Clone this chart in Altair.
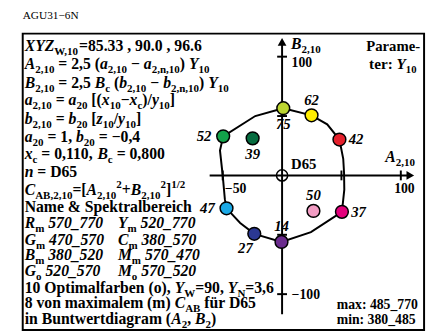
import altair as alt
import pandas as pd

FONT = "Liberation Serif"

# ---------------- data ----------------
PT_LABEL = ["75", "62", "42", "52", "39", "47", "27", "14", "50", "37"]
PT_A = [1.0, 24.8, 48.3, -49.6, -24.8, -46.8, -23.4, -0.5, 26.4, 50.4]
PT_B = [56.6, 50.6, 30.2, 32.9, 31.2, -27.7, -49.2, -56.0, -29.9, -30.7]
PT_COLOR = ["#bcd531", "#ffed00", "#e5202c", "#12a34a", "#066c40",
            "#1ba9e6", "#2b3893", "#6b2c8e", "#f29cc3", "#e4007c"]
PT_SIDE = ["below", "above", "right", "left", "below",
           "left", "belowleft", "above", "above", "right"]

CURVE_A = [1.0, 24.8, 38.0, 48.3, 51.5, 52.2, 52.4, 50.4, 24.3, -0.5,
           -23.4, -35.3, -46.8, -48.2, -50.0, -52.3, -49.6, -22.6, 1.0]
CURVE_B = [56.6, 50.6, 43.0, 30.2, 14.0, 2.0, -12.0, -30.7, -47.8, -56.0,
           -49.2, -40.0, -27.7, -20.0, 0.0, 21.0, 32.9, 50.0, 56.6]

X_TICKS = [-50, 50, 100]
Y_TICKS = [-100, -50, 50, 100]
X_AXIS = [-61, 107]
Y_AXIS = [-117, 112]

HEADER = "AGU31−6N"

BLOCK = [
    [("XYZ", "i"), ("W,10", "s"), ("=85.33 , 90.0 , 96.6", "b")],
    [("A", "i"), ("2,10", "s"), (" = 2,5 (", "b"), ("a", "i"), ("2,10", "s"), (" − ", "b"),
     ("a", "i"), ("2,n,10", "s"), (") ", "b"), ("Y", "i"), ("10", "s")],
    [("B", "i"), ("2,10", "s"), (" = 2,5 ", "b"), ("B", "i"), ("c", "s"), (" (", "b"),
     ("b", "i"), ("2,10", "s"), (" − ", "b"), ("b", "i"), ("2,n,10", "s"), (") ", "b"),
     ("Y", "i"), ("10", "s")],
    [("a", "i"), ("2,10", "s"), (" = ", "b"), ("a", "i"), ("20", "s"), (" [(", "b"), ("x", "i"),
     ("10", "s"), ("−", "b"), ("x", "i"), ("c", "s"), (")/", "b"), ("y", "i"), ("10", "s"), ("]", "b")],
    [("b", "i"), ("2,10", "s"), (" = ", "b"), ("b", "i"), ("20", "s"), (" [", "b"), ("z", "i"),
     ("10", "s"), ("/", "b"), ("y", "i"), ("10", "s"), ("]", "b")],
    [("a", "i"), ("20", "s"), (" = 1, ", "b"), ("b", "i"), ("20", "s"), (" = −0,4", "b")],
    [("x", "i"), ("c", "s"), (" = 0,110, ", "b"), ("B", "i"), ("c", "s"), (" = 0,800", "b")],
    [("n", "i"), (" = D65", "b")],
    [("C", "i"), ("AB,2,10", "s"), ("=[", "b"), ("A", "i"), ("2,10", "s"), ("2", "p"), ("+", "b"),
     ("B", "i"), ("2,10", "s"), ("2", "p"), ("]", "b"), ("1/2", "p")],
    [("Name & Spektralbereich", "b")],
    [("R", "i"), ("m", "s"), (" 570_770", "i")],
    [("G", "i"), ("m", "s"), (" 470_570", "i")],
    [("B", "i"), ("m", "s"), (" 380_520", "i")],
    [("G", "i"), ("o", "s"), (" 520_570", "i")],
    [("10 Optimalfarben (o), ", "b"), ("Y", "i"), ("W", "s"), ("=90, ", "b"), ("Y", "i"),
     ("N", "s"), ("=3,6", "b")],
    [("8 von maximalem (m) ", "b"), ("C", "i"), ("AB", "s"), (" für D65", "b")],
    [("in Buntwertdiagram (", "b"), ("A", "i"), ("2", "s"), (", ", "b"), ("B", "i"), ("2", "s"), (")", "b")],
]
BLOCK_COL2 = {
    10: [("Y", "i"), ("m", "s"), (" 520_770", "i")],
    11: [("C", "i"), ("m", "s"), (" 380_570", "i")],
    12: [("M", "i"), ("m", "s"), (" 570_470", "i")],
    13: [("M", "i"), ("o", "s"), (" 570_520", "i")],
}
B_AXIS_TITLE = [("B", "i"), ("2,10", "s")]
A_AXIS_TITLE = [("A", "i"), ("2,10", "s")]
B_TICK_LABEL = [("100", "b")]
B_TICK_LABEL2 = [("−100", "b")]
A_TICK_LABEL = [("100", "b")]
A_TICK_LABEL2 = [("−50", "b")]
WHITE_LABEL = [("D65", "b")]
PARAM1 = [("Parame-", "b")]
PARAM2 = [("ter: ", "b"), ("Y", "i"), ("10", "s")]
MAXTXT = [("max: 485_770", "b")]
MINTXT = [("min: 380_485", "b")]

# ---------------- layout helpers ----------------
OX, OY, K = 287.3, 175.5, 1.21   # page pixel of origin, px per unit


def px2A(px):
    return (px - OX) / K


def py2B(py):
    return (OY - py) / K


W_B = {' ': 250, '&': 833, '(': 333, ')': 333, '+': 570, ',': 250, '-': 333, '.': 250,
       '/': 278, ':': 333, '=': 570, '[': 333, ']': 333, '_': 500, '−': 570,
       'A': 722, 'B': 667, 'C': 722, 'D': 722, 'G': 778, 'M': 944, 'N': 722, 'O': 778,
       'P': 611, 'R': 722, 'S': 556, 'W': 1000, 'X': 722, 'Y': 722, 'Z': 667,
       'a': 500, 'b': 556, 'c': 444, 'd': 556, 'e': 444, 'f': 333, 'g': 500, 'h': 556,
       'i': 278, 'k': 556, 'l': 278, 'm': 833, 'n': 556, 'o': 500, 'p': 556, 'r': 444,
       's': 389, 't': 333, 'u': 556, 'v': 500, 'w': 722, 'x': 500, 'y': 500, 'z': 444, 'ü': 556}
W_BI = {' ': 250, '(': 333, ')': 333, ',': 250, '.': 250, '/': 278, '=': 570, '_': 500,
        ':': 333, '−': 606, 'A': 667, 'B': 667, 'C': 667, 'G': 722, 'M': 889, 'N': 722,
        'R': 667, 'W': 889, 'X': 667, 'Y': 611, 'Z': 611, 'a': 500, 'b': 500, 'c': 444,
        'm': 778, 'n': 556, 'o': 500, 'x': 500, 'y': 444, 'z': 389}


def tw(s, italic, fs):
    tab = W_BI if italic else W_B
    return sum(tab.get(c, 500) for c in s) * fs / 1000.0


def seg_size(st, fs):
    if st == "s":
        return fs * 0.7, fs * 0.26
    if st == "p":
        return fs * 0.7, -fs * 0.42
    return fs, 0.0


def run_width(segs, fs):
    return sum(tw(t, st == "i", seg_size(st, fs)[0]) for t, st in segs)


rows = []


def run(x, base_y, fs, segs):
    for txt, st in segs:
        italic = st == "i"
        size, dy = seg_size(st, fs)
        lead = len(txt) - len(txt.lstrip(" "))
        core = txt.strip(" ")
        xs = x + tw(" " * lead, italic, size)
        if core:
            rows.append(dict(A=px2A(xs), B=py2B(base_y + dy), txt=core, fs=size, it=italic))
        x += tw(txt, italic, size)


LINE_CENTERS = [44, 62, 81, 99, 118, 136, 154, 172, 190, 208, 224, 241, 257, 273, 290, 306, 322]
for i, segs in enumerate(BLOCK):
    run(25, LINE_CENTERS[i] + 5, 16, segs)
for i, segs in BLOCK_COL2.items():
    run(120, LINE_CENTERS[i] + 5, 16, segs)

run(296.5, 47, 16, B_AXIS_TITLE)
run(392.5, 162, 16, A_AXIS_TITLE)
run(297, 65, 14, B_TICK_LABEL)
run(297, 301, 14, B_TICK_LABEL2)
run(401.5, 193, 14, A_TICK_LABEL)
run(229, 193, 14, A_TICK_LABEL2)
run(296.5, 168.5, 15, WHITE_LABEL)
run(428 - run_width(PARAM1, 15), 48.5, 15, PARAM1)
run(376, 67, 15.5, PARAM2)
run(343, 312, 14, MAXTXT)
run(343, 327, 14, MINTXT)

txt_df = pd.DataFrame(rows)

XS = alt.Scale(domain=[px2A(23), px2A(432)], nice=False, zero=False)
YS = alt.Scale(domain=[py2B(333), py2B(31)], nice=False, zero=False)


def X(f="A"):
    return alt.X(f"{f}:Q", scale=XS, axis=None)


def Y(f="B"):
    return alt.Y(f"{f}:Q", scale=YS, axis=None)


# points
SIDE_OFF = {"above": (0, -16), "below": (0, 16), "right": (17, 0),
            "left": (-19.5, 0), "belowleft": (-9, 15)}
pts = pd.DataFrame(dict(A=PT_A, B=PT_B, lab=PT_LABEL, col=PT_COLOR, side=PT_SIDE))
pts["LA"] = [a + SIDE_OFF[s][0] / K for a, s in zip(pts.A, pts.side)]
pts["LB"] = [b - SIDE_OFF[s][1] / K for b, s in zip(pts.B, pts.side)]

curve = pd.DataFrame(dict(A=CURVE_A, B=CURVE_B, i=range(len(CURVE_A))))

# axes and ticks
rl = [dict(A=X_AXIS[0], B=0, A2=X_AXIS[1], B2=0), dict(A=0, B=Y_AXIS[0], A2=0, B2=Y_AXIS[1])]
for t in X_TICKS:
    rl.append(dict(A=t, B=-5 / K, A2=t, B2=5 / K))
for t in Y_TICKS:
    rl.append(dict(A=-5 / K, B=t, A2=5 / K, B2=t))
rules = pd.DataFrame(rl)

arrows = pd.DataFrame(dict(A=[X_AXIS[1] + 1, 0], B=[0, Y_AXIS[1] + 0.5],
                           shp=["triangle-right", "triangle-up"]))
origin = pd.DataFrame(dict(A=[0], B=[0]))
topbar = pd.DataFrame(dict(A=[px2A(22)], A2=[px2A(434)], B=[py2B(1.5)]))
header = pd.DataFrame(dict(A=[px2A(23)], B=[py2B(16)], txt=[HEADER]))

layers = [
    alt.Chart(topbar).mark_rule(color="black", strokeWidth=3).encode(
        x=X(), x2="A2:Q", y=Y()),
    alt.Chart(header).mark_text(font=FONT, fontSize=11.5, align="left", baseline="alphabetic",
                                color="black").encode(x=X(), y=Y(), text="txt:N"),
    alt.Chart(rules).mark_rule(color="black", strokeWidth=2).encode(
        x=X(), y=Y(), x2="A2:Q", y2="B2:Q"),
    alt.Chart(arrows).mark_point(filled=True, color="black", size=80, opacity=1).encode(
        x=X(), y=Y(), shape=alt.Shape("shp:N", scale=None)),
    alt.Chart(curve).mark_line(color="black", strokeWidth=2).encode(
        x=X(), y=Y(), order="i:Q"),
    alt.Chart(pts).mark_circle(size=170, stroke="black", strokeWidth=1.5, opacity=1).encode(
        x=X(), y=Y(), fill=alt.Fill("col:N", scale=None)),
    alt.Chart(origin).mark_point(shape="circle", filled=False, color="black", size=130,
                                 strokeWidth=1.5, opacity=1).encode(x=X(), y=Y()),
    alt.Chart(pts).mark_text(font=FONT, fontSize=15, fontStyle="italic", fontWeight="bold",
                             align="center", baseline="middle", color="black").encode(
        x=X("LA"), y=Y("LB"), text="lab:N"),
    alt.Chart(txt_df[~txt_df.it]).mark_text(font=FONT, fontWeight="bold", align="left",
                                            baseline="alphabetic", color="black").encode(
        x=X(), y=Y(), text="txt:N", size=alt.Size("fs:Q", scale=None)),
    alt.Chart(txt_df[txt_df.it]).mark_text(font=FONT, fontWeight="bold", fontStyle="italic",
                                           align="left", baseline="alphabetic",
                                           color="black").encode(
        x=X(), y=Y(), text="txt:N", size=alt.Size("fs:Q", scale=None)),
]

chart = alt.layer(*layers).properties(
    width=409, height=302,
    autosize=alt.AutoSizeParams(type="none"),
    padding={"left": 15, "top": 23, "right": 4, "bottom": 0},
    background="white",
).configure_view(stroke="black", strokeWidth=2)

chart.save("out.html", embed_options={"renderer": "svg", "actions": False})
